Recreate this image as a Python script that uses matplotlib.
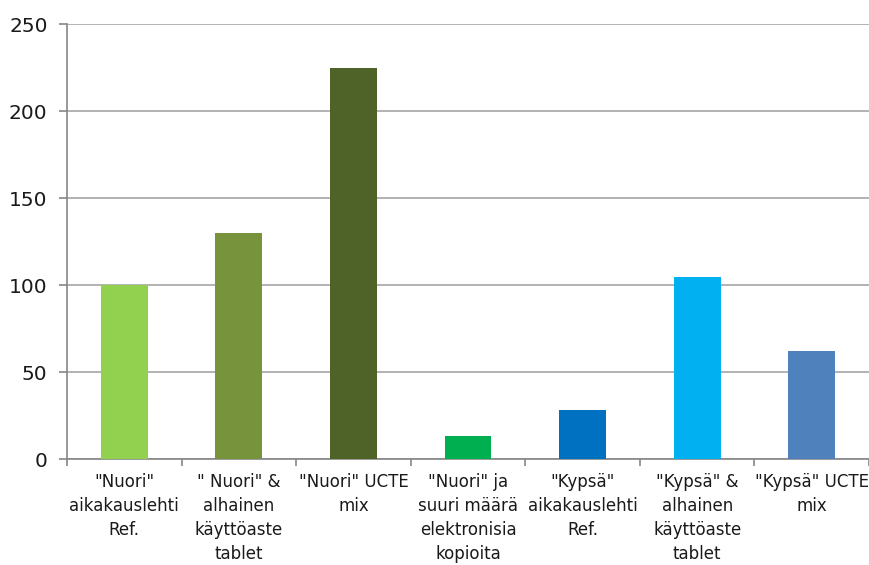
import matplotlib.pyplot as plt
import numpy as np

labels = ['"Nuori"\naikakauslehti\nRef.',
          '" Nuori" &\nalhainen\nkäyttöaste\ntablet',
          '"Nuori" UCTE\nmix',
          '"Nuori" ja\nsuuri määrä\nelektronisia\nkopioita',
          '"Kypsä"\naikakauslehti\nRef.',
          '"Kypsä" &\nalhainen\nkäyttöaste\ntablet',
          '"Kypsä" UCTE\nmix']
values = [100, 130, 225, 13, 28, 104.5, 62]
colors = ['#92D050', '#77933C', '#4F6228', '#00B050', '#0070C0', '#00B0F0', '#4F81BD']

plt.rcParams['font.family'] = 'DejaVu Sans'

fig = plt.figure(figsize=(8.69, 5.65), dpi=100)
ax = fig.add_axes([0.0771, 0.1876, 0.9229, 0.7699])

x = np.arange(len(values))
ax.bar(x, values, width=0.41, color=colors, zorder=3)

ax.set_xlim(-0.5, len(values) - 0.5)
ax.set_ylim(0, 250)
ax.set_yticks(np.arange(0, 251, 50))
ax.yaxis.grid(True, color='#A6A6A6', linewidth=1.2, zorder=0)

for s in ['top', 'right']:
    ax.spines[s].set_visible(False)
for s in ['left', 'bottom']:
    ax.spines[s].set_color('#868686')
    ax.spines[s].set_linewidth(1.2)

ax.tick_params(axis='y', length=6, width=1.2, color='#868686', pad=8,
               labelsize=14.5, labelcolor='#1a1a1a')
ax.set_xticks(x)
ax.set_xticklabels(labels, fontsize=12, linespacing=1.42, color='#1a1a1a')
ax.tick_params(axis='x', which='major', length=0, pad=10)
ax.set_xticks(np.arange(-0.5, len(values), 1), minor=True)
ax.tick_params(axis='x', which='minor', length=5, width=1.2, color='#868686')

fig.savefig('out.png', dpi=100)
